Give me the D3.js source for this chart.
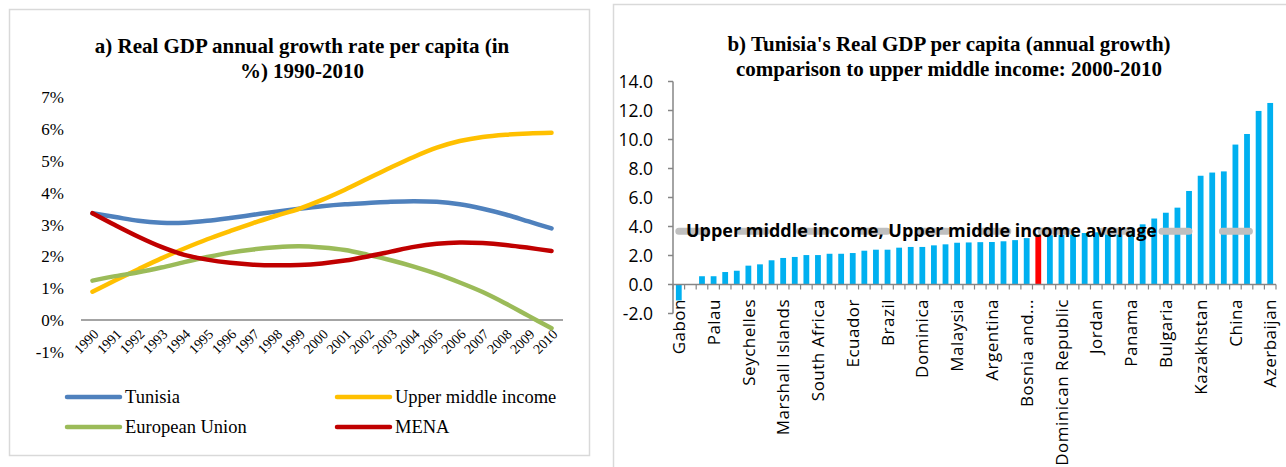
<!DOCTYPE html>
<html>
<head>
<meta charset="utf-8">
<script src="https://cdn.jsdelivr.net/npm/d3@7/dist/d3.min.js"></script>
<style>
    body { margin: 0; background: #fff; }
    svg { display: block; }
</style>
</head>
<body>
<div id="chart"></div>
<script>
//左图数据: 1990-2010 年增长率 (%)
var years = d3.range(1990, 2011).map(String);
var tunisia = [3.36, 3.24, 3.12, 3.06, 3.06, 3.12, 3.21, 3.31, 3.41, 3.5, 3.58, 3.64, 3.68, 3.72, 3.74, 3.72, 3.64, 3.5, 3.32, 3.1, 2.88];
var upperMiddle = [0.89, 1.25, 1.6, 1.94, 2.25, 2.54, 2.8, 3.05, 3.28, 3.5, 3.78, 4.1, 4.45, 4.8, 5.13, 5.42, 5.63, 5.76, 5.83, 5.87, 5.89];
var europeanUnion = [1.24, 1.38, 1.5, 1.65, 1.82, 1.98, 2.12, 2.22, 2.29, 2.32, 2.28, 2.2, 2.05, 1.88, 1.68, 1.45, 1.18, 0.88, 0.52, 0.13, -0.26];
var mena = [3.36, 2.98, 2.62, 2.3, 2.05, 1.9, 1.8, 1.74, 1.72, 1.73, 1.78, 1.87, 2.0, 2.15, 2.3, 2.4, 2.44, 2.42, 2.36, 2.27, 2.17];
var percentTicks = [-1, 0, 1, 2, 3, 4, 5, 6, 7];

//右图数据: 2000-2010 人均GDP增长 (中高收入国家)
var countries = ["Gabon", "", "", "Palau", "", "", "Seychelles", "", "", "Marshall Islands", "", "", "South Africa", "", "", "Ecuador", "", "",
    "Brazil", "", "", "Dominica", "", "", "Malaysia", "", "", "Argentina", "", "", "Bosnia and...", "", "", "Dominican Republic", "", "",
    "Jordan", "", "", "Panama", "", "", "Bulgaria", "", "", "Kazakhstan", "", "", "China", "", "", "Azerbaijan"];
var growth = [-1.1, 0.0, 0.57, 0.57, 0.86, 0.95, 1.3, 1.39, 1.67, 1.83, 1.9, 2.03, 2.03, 2.12, 2.12, 2.17, 2.33, 2.4,
    2.4, 2.54, 2.59, 2.59, 2.7, 2.77, 2.88, 2.9, 2.92, 2.93, 2.98, 3.06, 3.2, 3.4, 3.4, 3.42, 3.45, 3.55,
    3.6, 3.62, 3.7, 3.85, 4.15, 4.55, 4.95, 5.3, 6.45, 7.5, 7.72, 7.8, 9.65, 10.38, 11.97, 12.52];
var tunisiaIndex = 31;
var upperMiddleAverage = 3.68;
var growthTicks = [-2, 0, 2, 4, 6, 8, 10, 12, 14];

var svg = d3.select("#chart").append("svg")
    .attr("width", 1286)
    .attr("height", 467);

/***** 左图: 折线 *****/
var gA = svg.append("g");

gA.append("rect")
    .attr("x", 9.5).attr("y", 9.5)
    .attr("width", 580).attr("height", 446)
    .attr("fill", "#fff")
    .attr("stroke", "#d9d9d9")
    .attr("stroke-width", 1.5);

//标题
var titleA = gA.append("text")
    .attr("text-anchor", "middle")
    .attr("font-family", "'Liberation Serif', 'Times New Roman', serif")
    .attr("font-weight", "bold")
    .attr("font-size", 21)
    .attr("fill", "#000");
titleA.append("tspan").attr("x", 302).attr("y", 53).text("a) Real GDP annual growth rate per capita (in");
titleA.append("tspan").attr("x", 302).attr("y", 78).text("%) 1990-2010");

var xA = d3.scaleBand().domain(years).range([81, 563]);
var yA = d3.scaleLinear().domain([-1, 7]).range([351.8, 97.5]);

//y轴标签
gA.selectAll("text.ylab").data(percentTicks)
    .enter().append("text")
    .attr("class", "ylab")
    .attr("x", 64)
    .attr("y", function (d) { return yA(d); })
    .attr("dy", "0.35em")
    .attr("text-anchor", "end")
    .attr("font-family", "'Liberation Serif', 'Times New Roman', serif")
    .attr("font-size", 17)
    .text(function (d) { return d + "%"; });

//0% 横轴
gA.append("line")
    .attr("x1", xA.range()[0]).attr("x2", xA.range()[1])
    .attr("y1", yA(0)).attr("y2", yA(0))
    .attr("stroke", "#868686")
    .attr("stroke-width", 1.5);

//年份标签, 旋转45度
gA.selectAll("text.year").data(years)
    .enter().append("text")
    .attr("class", "year")
    .attr("transform", function (d) {
        return "translate(" + (xA(d) + xA.bandwidth() / 2 + 7) + "," + 335 + ")rotate(-45)";
    })
    .attr("text-anchor", "end")
    .attr("font-family", "'Liberation Serif', 'Times New Roman', serif")
    .attr("font-size", 14)
    .text(function (d) { return d; });

var seriesA = [
    {name: "Tunisia", values: tunisia, color: "#4f81bd"},
    {name: "Upper middle income", values: upperMiddle, color: "#ffc000"},
    {name: "European Union", values: europeanUnion, color: "#9bbb59"},
    {name: "MENA", values: mena, color: "#c00000"}
];

var line = d3.line()
    .x(function (d, i) { return xA(years[i]) + xA.bandwidth() / 2; })
    .y(function (d) { return yA(d); })
    .curve(d3.curveCatmullRom.alpha(0.5));

gA.selectAll("path.series").data(seriesA)
    .enter().append("path")
    .attr("class", "series")
    .attr("d", function (d) { return line(d.values); })
    .attr("fill", "none")
    .attr("stroke", function (d) { return d.color; })
    .attr("stroke-width", 4.5)
    .attr("stroke-linecap", "round");

//图例
var legend = gA.selectAll("g.legend").data(seriesA)
    .enter().append("g")
    .attr("class", "legend")
    .attr("transform", function (d, i) {
        return "translate(" + (i % 2 == 0 ? 67 : 337) + "," + (i < 2 ? 397 : 427) + ")";
    });
legend.append("line")
    .attr("x1", 0).attr("x2", 53)
    .attr("stroke", function (d) { return d.color; })
    .attr("stroke-width", 4.5)
    .attr("stroke-linecap", "round");
legend.append("text")
    .attr("x", 58)
    .attr("dy", "0.35em")
    .attr("font-family", "'Liberation Serif', 'Times New Roman', serif")
    .attr("font-size", 18.5)
    .text(function (d) { return d.name; });

/***** 右图: 柱状 *****/
var gB = svg.append("g");

gB.append("rect")
    .attr("x", 613.5).attr("y", 4.5)
    .attr("width", 690).attr("height", 480)
    .attr("fill", "#fff")
    .attr("stroke", "#d9d9d9")
    .attr("stroke-width", 1.5);

var titleB = gB.append("text")
    .attr("text-anchor", "middle")
    .attr("font-family", "'Liberation Serif', 'Times New Roman', serif")
    .attr("font-weight", "bold")
    .attr("font-size", 21)
    .attr("fill", "#000");
titleB.append("tspan").attr("x", 949).attr("y", 51).text("b) Tunisia's Real GDP per capita (annual growth)");
titleB.append("tspan").attr("x", 949).attr("y", 76).text("comparison to upper middle income: 2000-2010");

var xB = d3.scaleBand().domain(d3.range(countries.length)).range([673, 1276]).paddingInner(0.5).paddingOuter(0.25);
var yB = d3.scaleLinear().domain([-2, 14]).range([313.5, 81.5]);
var stepB = xB.step();

//柱子
gB.selectAll("rect.bar").data(growth)
    .enter().append("rect")
    .attr("class", "bar")
    .attr("x", function (d, i) { return xB(i); })
    .attr("y", function (d) { return yB(Math.max(0, d)); })
    .attr("width", xB.bandwidth())
    .attr("height", function (d) { return Math.abs(yB(d) - yB(0)); })
    .attr("fill", function (d, i) { return i == tunisiaIndex ? "#ff0000" : "#00b0f0"; });

//y轴
gB.append("line")
    .attr("x1", 673).attr("x2", 673)
    .attr("y1", yB(14)).attr("y2", yB(-2))
    .attr("stroke", "#868686").attr("stroke-width", 1.5);
gB.selectAll("line.ytick").data(growthTicks)
    .enter().append("line")
    .attr("class", "ytick")
    .attr("x1", 668).attr("x2", 673)
    .attr("y1", function (d) { return yB(d); })
    .attr("y2", function (d) { return yB(d); })
    .attr("stroke", "#868686").attr("stroke-width", 1.5);
gB.selectAll("text.ylab").data(growthTicks)
    .enter().append("text")
    .attr("class", "ylab")
    .attr("x", 653)
    .attr("y", function (d) { return yB(d); })
    .attr("dy", "0.35em")
    .attr("text-anchor", "end")
    .attr("font-family", "'Open Sans', sans-serif")
    .attr("font-size", 17.5)
    .attr("fill", "#000")
    .text(function (d) { return d.toFixed(1); });

//x轴 (0 处)
gB.append("line")
    .attr("x1", 673).attr("x2", 1276)
    .attr("y1", yB(0)).attr("y2", yB(0))
    .attr("stroke", "#868686").attr("stroke-width", 1.5);
gB.selectAll("line.xtick").data(d3.range(countries.length + 1))
    .enter().append("line")
    .attr("class", "xtick")
    .attr("x1", function (d) { return 673 + d * stepB; })
    .attr("x2", function (d) { return 673 + d * stepB; })
    .attr("y1", yB(0)).attr("y2", yB(0) + 5)
    .attr("stroke", "#868686").attr("stroke-width", 1.2);

//国家标签, 每三个显示一个
gB.selectAll("text.country").data(countries)
    .enter().append("text")
    .attr("class", "country")
    .attr("transform", function (d, i) {
        return "translate(" + (xB(i) + xB.bandwidth() / 2) + "," + 299 + ")rotate(-90)";
    })
    .attr("dy", "0.36em")
    .attr("text-anchor", "end")
    .attr("font-family", "'Open Sans', sans-serif")
    .attr("font-size", 17)
    .attr("letter-spacing", 0.5)
    .attr("fill", "#000")
    .text(function (d) { return d; });

//中高收入平均线
gB.append("line")
    .attr("x1", xB(0) + xB.bandwidth() / 2)
    .attr("x2", xB(countries.length - 1) + xB.bandwidth() / 2)
    .attr("y1", yB(upperMiddleAverage)).attr("y2", yB(upperMiddleAverage))
    .attr("stroke", "#bfbfbf")
    .attr("stroke-width", 7)
    .attr("stroke-linecap", "round")
    .attr("stroke-dasharray", "27,33.4");

gB.append("text")
    .attr("x", 686)
    .attr("y", yB(upperMiddleAverage))
    .attr("dy", "0.36em")
    .attr("font-family", "'Open Sans', sans-serif")
    .attr("font-weight", "bold")
    .attr("font-size", 17)
    .attr("textLength", 471)
    .attr("lengthAdjust", "spacingAndGlyphs")
    .attr("fill", "#000")
    .text("Upper middle income, Upper middle income average");
</script>
</body>
</html>
